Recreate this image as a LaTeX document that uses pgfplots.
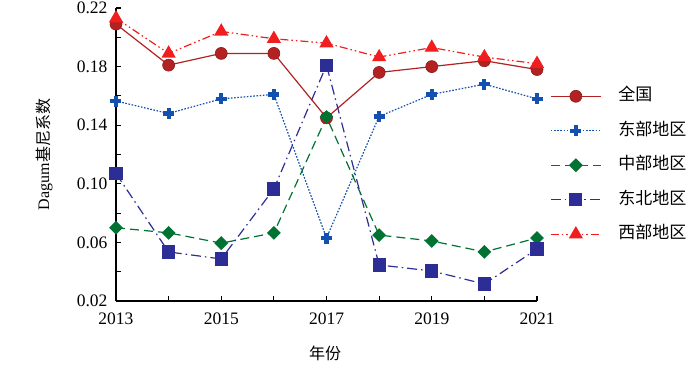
\documentclass[border=0pt]{standalone}
\usepackage{fontspec}
\setmainfont{Liberation Serif}
\newfontfamily\cjk{Noto Sans CJK SC}
\usepackage{pgfplots}
\pgfplotsset{compat=1.18}
\definecolor{cQG}{RGB}{178,34,34}
\definecolor{cDB}{RGB}{20,80,175}
\definecolor{cZB}{RGB}{0,115,50}
\definecolor{cDBei}{RGB}{45,45,150}
\definecolor{cXB}{RGB}{240,30,30}
\begin{document}
\begin{tikzpicture}
\path[use as bounding box] (-116pt,-64pt) rectangle (584pt,301pt);
\begin{axis}[
  at={(0pt,0pt)}, anchor=south west,
  scale only axis, width=421pt, height=293pt,
  xmin=2013, xmax=2021, ymin=0.02, ymax=0.22,
  axis x line=bottom, axis y line=left,
  axis line style={-, line width=1.4pt, black},
  xtick={2013,2015,2017,2019,2021},
  minor xtick={2014,2016,2018,2020},
  ytick={0.02,0.06,0.10,0.14,0.18,0.22},
  minor ytick={0.04,0.08,0.12,0.16,0.20},
  tick align=inside,
  major tick length=5pt, minor tick length=5pt,
  every tick/.style={black, line width=1.1pt},
  /pgf/number format/assume math mode=true,
  x tick label style={/pgf/number format/1000 sep={}, yshift=-8pt},
  y tick label style={/pgf/number format/.cd, fixed, fixed zerofill, precision=2, /tikz/.cd, xshift=-5pt},
  ticklabel style={font=\fontsize{17.5}{17.5}\selectfont},
  xlabel={\cjk 年份},
  ylabel={Dagum{\cjk 基尼系数}},
  label style={font=\fontsize{16}{16}\selectfont},
  xlabel style={at={(axis description cs:0.497,-0.1775)}, anchor=center},
  ylabel style={at={(axis description cs:-0.171,0.5)}, anchor=center},
  clip=false,
  legend image code/.code={\draw[mark repeat=2,mark phase=2,#1] plot coordinates {(0pt,0pt) (25pt,0pt) (50pt,0pt)};},
  legend cell align=left,
  legend style={at={(axis description cs:1.031,0.725)}, anchor=north west, draw=none, fill=none,
    inner sep=0pt, row sep=19.5pt,
    nodes={inner sep=0pt, text height=12pt, text depth=3pt, font=\cjk\fontsize{17}{17}\selectfont},
    /tikz/every odd column/.append style={column sep=17pt}},
]
\addplot[cQG, line width=1.2pt, mark=*, mark size=6pt, mark options={solid, fill=cQG, draw=cQG!80!black, line width=0.6pt}]
coordinates {(2013,0.209) (2014,0.181) (2015,0.189) (2016,0.189) (2017,0.145) (2018,0.176) (2019,0.180) (2020,0.184) (2021,0.178)};
\addlegendentry{全国}
\addplot[cDB, line width=1.2pt, dash pattern=on 1.6pt off 1.6pt, mark=+, mark size=5.5pt, mark options={solid, line width=4.2pt}]
coordinates {(2013,0.1565) (2014,0.148) (2015,0.158) (2016,0.161) (2017,0.063) (2018,0.146) (2019,0.161) (2020,0.168) (2021,0.158)};
\addlegendentry{东部地区}
\addplot[cZB, line width=1.2pt, dash pattern=on 9pt off 5pt, mark=square*, mark size=4.3pt, mark options={solid, rotate=45, fill=cZB}]
coordinates {(2013,0.070) (2014,0.0665) (2015,0.0595) (2016,0.0665) (2017,0.1456) (2018,0.065) (2019,0.061) (2020,0.0535) (2021,0.063)};
\addlegendentry{中部地区}
\addplot[cDBei, line width=1.2pt, dash pattern=on 10pt off 4pt on 1.5pt off 4pt, mark=square*, mark size=6pt, mark options={solid, fill=cDBei}]
coordinates {(2013,0.107) (2014,0.0535) (2015,0.0487) (2016,0.0965) (2017,0.181) (2018,0.0446) (2019,0.0405) (2020,0.0316) (2021,0.0555)};
\addlegendentry{东北地区}
\addplot[cXB, line width=1.2pt, dash pattern=on 8pt off 3pt on 1.5pt off 3pt on 1.5pt off 3pt, mark=triangle*, mark size=7pt, mark options={solid, fill=cXB}]
coordinates {(2013,0.213) (2014,0.189) (2015,0.204) (2016,0.199) (2017,0.196) (2018,0.1865) (2019,0.193) (2020,0.1865) (2021,0.182)};
\addlegendentry{西部地区}
\end{axis}
\end{tikzpicture}
\end{document}
